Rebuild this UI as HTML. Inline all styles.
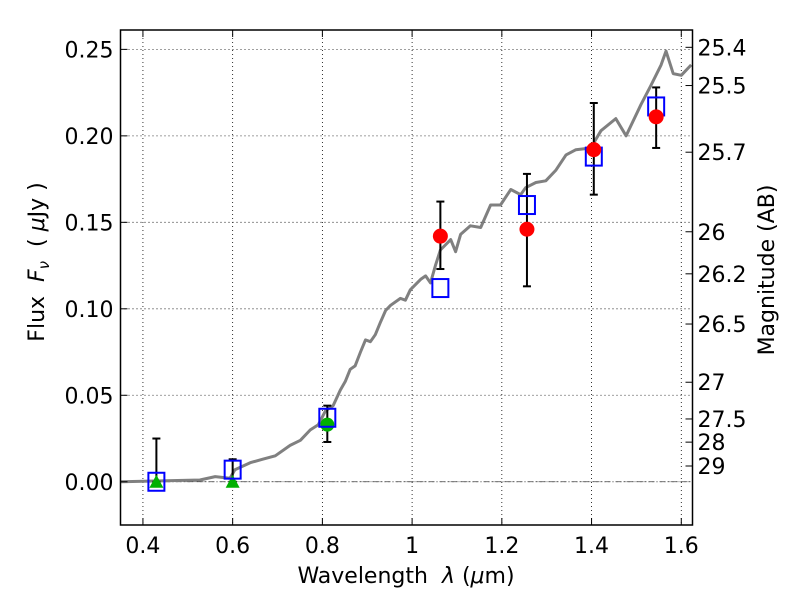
<!DOCTYPE html>
<html><head><meta charset="utf-8"><style>
html,body{margin:0;padding:0;background:#fff;}
svg{display:block;font-family:"DejaVu Sans","Liberation Sans",sans-serif;}
</style></head><body>
<svg id="chart" width="800" height="600" viewBox="0 0 800 600" xmlns="http://www.w3.org/2000/svg"></svg>
<script>
const xTicks=[0.4,0.6,0.8,1.0,1.2,1.4,1.6];
const xTickLabels=["0.4","0.6","0.8","1","1.2","1.4","1.6"];
const yTicks=[0,0.05,0.10,0.15,0.20,0.25];
const yTickLabels=["0.00","0.05","0.10","0.15","0.20","0.25"];
const magTicks=[25.4,25.5,25.7,26,26.2,26.5,27,27.5,28,29];
const magTickLabels=["25.4","25.5","25.7","26","26.2","26.5","27","27.5","28","29"];
const modelWave=[0.351,0.527,0.561,0.594,0.605,0.639,0.666,0.695,0.728,0.751,0.773,0.791,0.807,0.824,0.840,0.851,0.862,0.873,0.885,0.896,0.907,0.918,0.929,0.941,0.952,0.974,0.985,0.996,1.019,1.030,1.041,1.052,1.063,1.086,1.097,1.108,1.130,1.153,1.175,1.197,1.220,1.242,1.253,1.276,1.298,1.320,1.343,1.365,1.398,1.421,1.454,1.477,1.510,1.532,1.555,1.566,1.582,1.600,1.622];
const modelFlux=[0.000,0.001,0.003,0.002,0.007,0.011,0.013,0.015,0.021,0.024,0.030,0.033,0.041,0.044,0.053,0.058,0.065,0.067,0.075,0.082,0.081,0.085,0.092,0.099,0.102,0.106,0.105,0.111,0.117,0.119,0.115,0.125,0.134,0.140,0.133,0.143,0.148,0.147,0.160,0.160,0.169,0.166,0.170,0.173,0.174,0.180,0.189,0.192,0.193,0.203,0.210,0.200,0.218,0.229,0.241,0.249,0.236,0.235,0.241];
const boxWave=[0.43,0.60,0.811,1.063,1.256,1.405,1.544];
const boxFlux=[0.000,0.007,0.037,0.112,0.160,0.188,0.217];
const redWave=[1.063,1.256,1.405,1.544];
const redFlux=[0.142,0.146,0.192,0.211];
const redLo=[0.123,0.113,0.166,0.193];
const redHi=[0.162,0.178,0.219,0.228];
const greenTriWave=[0.43,0.60];
const greenTriFlux=[0.0,0.0];
const greenTriHi=[0.025,0.013];
const greenDotWave=[0.811];
const greenDotFlux=[0.033];
const greenDotLo=[0.023];
const greenDotHi=[0.044];

const L=120.5,R=692.5,T=30,B=525;
const X0=0.35,X1=1.625,Y0=-0.025,Y1=0.2612;
const sx=v=>L+(v-X0)/(X1-X0)*(R-L);
const sy=v=>B-(v-Y0)/(Y1-Y0)*(B-T);
const magToFlux=m=>Math.pow(10,(23.9-m)/2.5);
const svg=document.getElementById('chart');
const NS="http://www.w3.org/2000/svg";
function mk(tag,attrs,parent){const e=document.createElementNS(NS,tag);for(const k in attrs)e.setAttribute(k,attrs[k]);(parent||svg).appendChild(e);return e;}

const grid=mk('g',{});


xTicks.forEach(v=>mk('line',{x1:sx(v),x2:sx(v),y1:T,y2:B,stroke:'#000','stroke-width':0.8,'stroke-dasharray':'1,3'},grid));
yTicks.forEach(v=>mk('line',{x1:L,x2:R,y1:sy(v),y2:sy(v),stroke:'#000','stroke-width':0.8,'stroke-dasharray':'1,3'},grid));
const zl=mk('line',{x1:L,x2:R,y1:sy(0),y2:sy(0),stroke:'#444','stroke-width':0.8,'stroke-dasharray':'6,2,1,2'});



let d='';modelWave.forEach((w,i)=>{d+=(i?'L':'M')+sx(w).toFixed(1)+','+sy(modelFlux[i]).toFixed(1);});
const model=mk('path',{d:d,fill:'none',stroke:'#808080','stroke-width':3,'stroke-linejoin':'round'});



function errbar(w,lo,hi,name){const g=mk('g',{});


const x=sx(w);mk('line',{x1:x,x2:x,y1:sy(lo),y2:sy(hi),stroke:'#000','stroke-width':2},g);
mk('line',{x1:x-4,x2:x+4,y1:sy(lo),y2:sy(lo),stroke:'#000','stroke-width':2},g);
mk('line',{x1:x-4,x2:x+4,y1:sy(hi),y2:sy(hi),stroke:'#000','stroke-width':2},g);}
greenTriWave.forEach((w,i)=>errbar(w,greenTriFlux[i],greenTriHi[i],'green-errorbar'));
greenDotWave.forEach((w,i)=>errbar(w,greenDotLo[i],greenDotHi[i],'green-errorbar'));
redWave.forEach((w,i)=>errbar(w,redLo[i],redHi[i],'red-errorbar'));

greenTriWave.forEach((w,i)=>{const x=sx(w),y=sy(greenTriFlux[i]);
const p=mk('polygon',{points:`${x},${y-7} ${x-7},${y+6} ${x+7},${y+6}`,fill:'#00b000'});

});
greenDotWave.forEach((w,i)=>{const c=mk('circle',{cx:sx(w),cy:sy(greenDotFlux[i]),r:7,fill:'#00b000'});

});
boxWave.forEach((w,i)=>{const r=mk('rect',{x:sx(w)-8,y:sy(boxFlux[i])-9,width:16,height:18,fill:'none',stroke:'#0000ff','stroke-width':2});

});
redWave.forEach((w,i)=>{const c=mk('circle',{cx:sx(w),cy:sy(redFlux[i]),r:7.5,fill:'#ff0000'});

});

const fr=mk('rect',{x:L,y:T,width:R-L,height:B-T,fill:'none',stroke:'#000','stroke-width':1.5});



xTicks.forEach((v,i)=>{const x=sx(v);
mk('line',{x1:x,x2:x,y1:B,y2:B-7,stroke:'#000','stroke-width':1});
mk('line',{x1:x,x2:x,y1:T,y2:T+7,stroke:'#000','stroke-width':1});
const t=mk('text',{x:x,y:B+28,'font-size':22,'text-anchor':'middle'});t.textContent=xTickLabels[i];

});
yTicks.forEach((v,i)=>{const y=sy(v);
mk('line',{x1:L,x2:L+7,y1:y,y2:y,stroke:'#000','stroke-width':1});
const t=mk('text',{x:L-7,y:y+8,'font-size':22,'text-anchor':'end'});t.textContent=yTickLabels[i];

});
magTicks.forEach((m,i)=>{const y=sy(magToFlux(m));
mk('line',{x1:R,x2:R-7,y1:y,y2:y,stroke:'#000','stroke-width':1});
const t=mk('text',{x:R+5,y:y+8,'font-size':22,'text-anchor':'start'});t.textContent=magTickLabels[i];

});
</script>
<svg style="position:absolute;left:0;top:0" width="800" height="600">
<text x="406" y="583" font-size="22" text-anchor="middle" font-family="DejaVu Sans, Liberation Sans, sans-serif" xml:space="preserve">Wavelength  <tspan font-style="italic">λ</tspan> (<tspan font-style="italic">μ</tspan>m)</text>
<text transform="translate(44,262) rotate(-90)" font-size="22" text-anchor="middle" font-family="DejaVu Sans, Liberation Sans, sans-serif" xml:space="preserve">Flux  <tspan font-style="italic">F</tspan><tspan font-style="italic" font-size="15" dy="5">ν</tspan><tspan dy="-5">  ( </tspan><tspan font-style="italic">μ</tspan>Jy )</text>
<text transform="translate(774,270) rotate(-90)" font-size="22" text-anchor="middle" font-family="DejaVu Sans, Liberation Sans, sans-serif">Magnitude (AB)</text>
</svg>
</body></html>
